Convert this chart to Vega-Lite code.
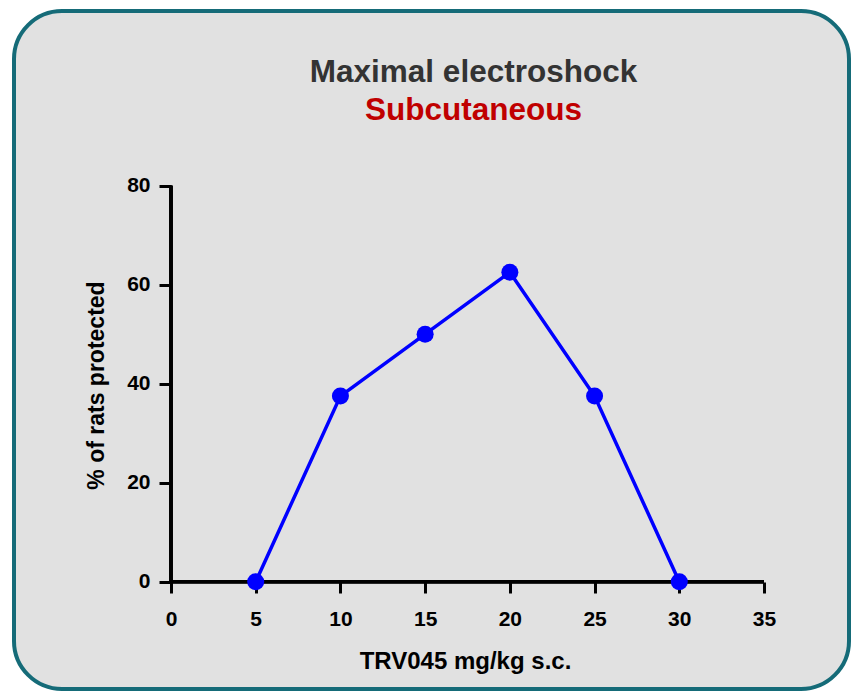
{
  "$schema": "https://vega.github.io/schema/vega-lite/v6.json",
  "width": 835,
  "height": 678,
  "autosize": {"type": "none"},
  "padding": {"left": 14, "top": 11, "right": 2, "bottom": 3},
  "background": "white",
  "title": {
    "text": "Maximal electroshock",
    "subtitle": "Subcutaneous",
    "font": "Liberation Sans",
    "fontSize": 31.5,
    "fontWeight": "bold",
    "color": "#333333",
    "subtitleFont": "Liberation Sans",
    "subtitleFontSize": 31.5,
    "subtitleFontWeight": "bold",
    "subtitleColor": "#c00000",
    "subtitlePadding": 6,
    "anchor": "middle",
    "frame": "group",
    "dx": 42,
    "offset": -115
  },
  "data": {
    "values": [
      {"dose": 5, "pct": 0},
      {"dose": 10, "pct": 37.5},
      {"dose": 15, "pct": 50},
      {"dose": 20, "pct": 62.5},
      {"dose": 25, "pct": 37.5},
      {"dose": 30, "pct": 0}
    ]
  },
  "encoding": {
    "x": {
      "field": "dose",
      "type": "quantitative",
      "scale": {"domain": [-9.266, 40.017], "nice": false, "zero": false},
      "axis": {
        "values": [0, 5, 10, 15, 20, 25, 30, 35],
        "orient": "bottom",
        "offset": -107,
        "domain": false,
        "grid": false,
        "tickColor": "black",
        "tickWidth": 3,
        "tickSize": 11,
        "labelFont": "Liberation Sans",
        "labelFontSize": 21,
        "labelFontWeight": "bold",
        "labelColor": "black",
        "labelPadding": 15,
        "title": "TRV045 mg/kg s.c.",
        "titleFont": "Liberation Sans",
        "titleFontSize": 24,
        "titleFontWeight": "bold",
        "titleColor": "black",
        "titleX": 451,
        "titleY": 86,
        "titleAlign": "center",
        "titleBaseline": "alphabetic"
      }
    },
    "y": {
      "field": "pct",
      "type": "quantitative",
      "scale": {"domain": [-21.68, 115.29], "nice": false, "zero": false},
      "axis": {
        "values": [0, 20, 40, 60, 80],
        "orient": "left",
        "offset": -157,
        "domain": false,
        "grid": false,
        "tickColor": "black",
        "tickWidth": 3,
        "tickSize": 12,
        "labelFont": "Liberation Sans",
        "labelFontSize": 21,
        "labelFontWeight": "bold",
        "labelColor": "black",
        "labelPadding": 9,
        "title": "% of rats protected",
        "titleFont": "Liberation Sans",
        "titleFontSize": 23,
        "titleFontWeight": "bold",
        "titleColor": "black",
        "titleAngle": 270,
        "titleX": -75,
        "titleY": 374,
        "titleAlign": "center",
        "titleBaseline": "middle"
      }
    }
  },
  "layer": [
    {
      "mark": {"type": "rule", "color": "black", "strokeWidth": 3},
      "encoding": {
        "x": {"datum": 0, "type": "quantitative"},
        "x2": {"datum": 35},
        "y": {"datum": 0, "type": "quantitative"}
      }
    },
    {
      "mark": {"type": "rule", "color": "black", "strokeWidth": 3},
      "encoding": {
        "x": {"datum": 0, "type": "quantitative"},
        "y": {"datum": 0, "type": "quantitative"},
        "y2": {"datum": 80}
      }
    },
    {
      "mark": {"type": "line", "color": "#0000ff", "strokeWidth": 3.5},
      "encoding": {}
    },
    {
      "mark": {"type": "point", "filled": true, "color": "#0000ff", "size": 290, "opacity": 1, "shape": "circle"},
      "encoding": {}
    }
  ],
  "config": {
    "view": {"fill": "#e1e1e1", "stroke": "#156b78", "strokeWidth": 4, "cornerRadius": 48}
  }
}
